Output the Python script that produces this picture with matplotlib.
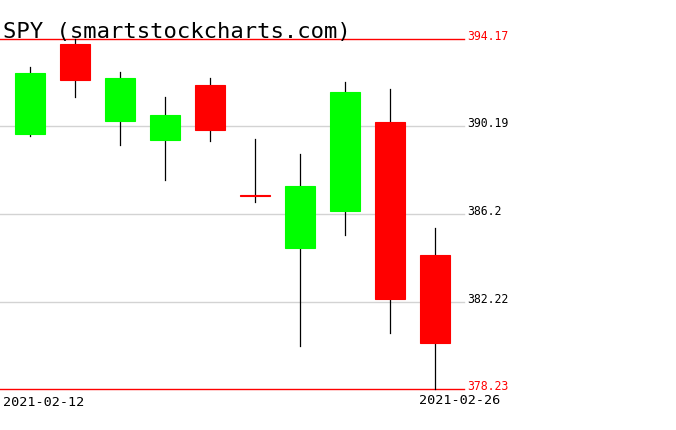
import matplotlib
matplotlib.use("Agg")
import matplotlib.pyplot as plt

dates = ["2021-02-12", "2021-02-16", "2021-02-17", "2021-02-18", "2021-02-19",
         "2021-02-22", "2021-02-23", "2021-02-24", "2021-02-25", "2021-02-26"]
opens = [389.85, 393.96, 390.42, 389.59, 392.07, 387.06, 384.66, 386.33, 390.41, 384.35]
highs = [392.90, 394.17, 392.66, 391.52, 392.38, 389.62, 388.95, 392.23, 391.88, 385.58]
lows = [389.77, 391.53, 389.33, 387.74, 389.55, 386.74, 380.20, 385.27, 380.78, 378.23]
closes = [392.64, 392.30, 392.39, 390.72, 390.03, 387.03, 387.50, 391.77, 382.33, 380.36]
grid_levels = [390.19, 386.2, 382.22]
grid_labels = ["390.19", "386.2", "382.22"]

mono = "DejaVu Sans Mono"

fig = plt.figure(figsize=(6.76, 4.31), dpi=100)
ax = fig.add_axes([0, 0, 1, 1])
ax.set_xlim(-0.6667, 14.356)
ax.set_ylim(376.38, 395.99)
ax.axis("off")

line_end = 9.644
label_x = 9.71

# gray levels between the extremes
for lvl, lab in zip(grid_levels, grid_labels):
    ax.plot([-0.6667, line_end], [lvl, lvl], color="#d3d3d3", lw=1, zorder=1)
    ax.text(label_x, lvl, lab, fontsize=8.3, family=mono, color="black", va="baseline")

# max / min lines in red
hi, lo = max(highs), min(lows)
for lvl in (hi, lo):
    ax.plot([-0.6667, line_end], [lvl, lvl], color="red", lw=1, zorder=1)
    ax.text(label_x, lvl, f"{lvl:.2f}", fontsize=8.3, family=mono, color="red", va="baseline")

# candles
for i in range(len(dates)):
    o, h, l, c = opens[i], highs[i], lows[i], closes[i]
    col = "#00ff00" if c >= o else "#ff0000"
    ax.plot([i, i], [l, h], color="black", lw=0.9, zorder=2)
    ax.bar(i, abs(c - o), bottom=min(o, c), width=0.67, color=col,
           edgecolor=col, linewidth=0.8, zorder=3)

ax.text(-0.6, 394.26, "SPY (smartstockcharts.com)", fontsize=16, family=mono,
        color="black", va="baseline")
ax.text(-0.6, 377.52, dates[0], fontsize=9.7, family=mono, va="baseline")
ax.text(len(dates) - 1 - 0.356, 377.6, dates[-1], fontsize=9.7, family=mono, va="baseline")

fig.savefig("out.png", dpi=100)
